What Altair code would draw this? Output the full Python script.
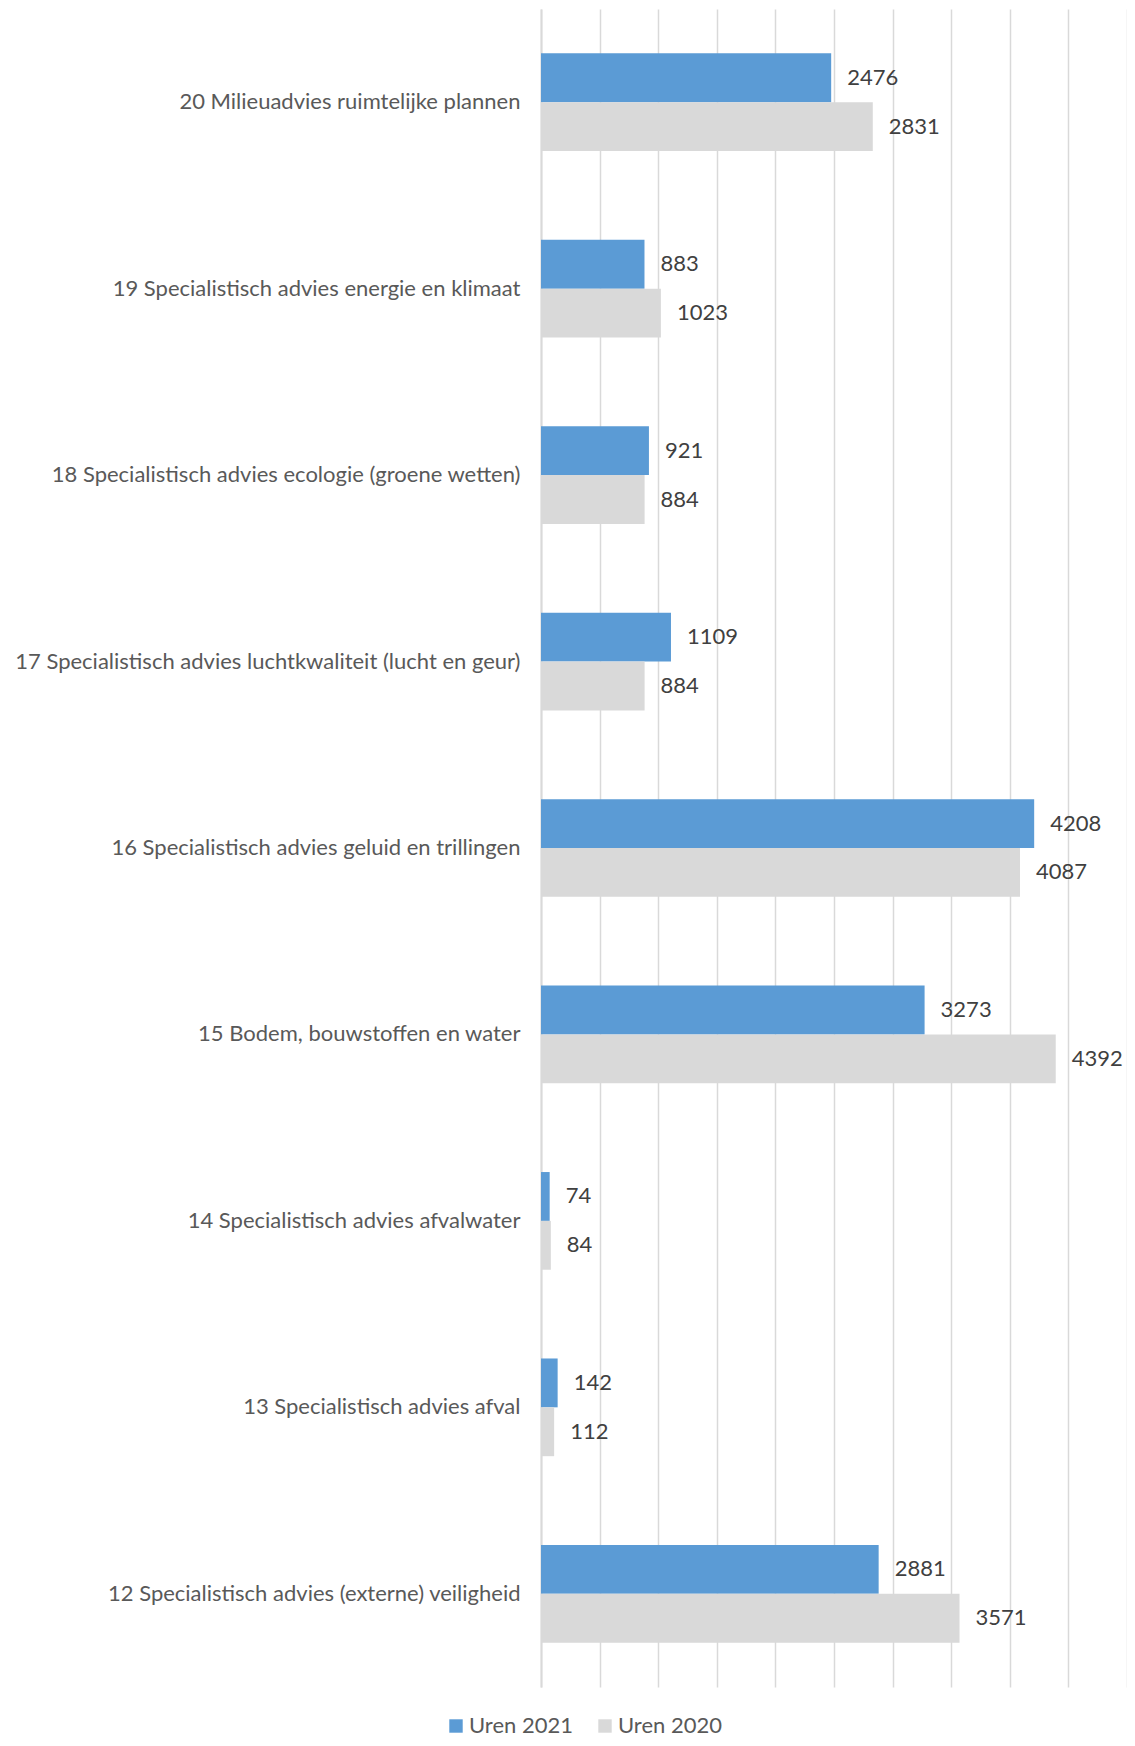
import altair as alt
import pandas as pd

categories = [
    "20 Milieuadvies ruimtelijke plannen",
    "19 Specialistisch advies energie en klimaat",
    "18 Specialistisch advies ecologie (groene wetten)",
    "17 Specialistisch advies luchtkwaliteit (lucht en geur)",
    "16 Specialistisch advies geluid en trillingen",
    "15 Bodem, bouwstoffen en water",
    "14 Specialistisch advies afvalwater",
    "13 Specialistisch advies afval",
    "12 Specialistisch advies (externe) veiligheid",
]
uren_2021 = [2476, 883, 921, 1109, 4208, 3273, 74, 142, 2881]
uren_2020 = [2831, 1023, 884, 884, 4087, 4392, 84, 112, 3571]
series = ["Uren 2021", "Uren 2020"]
colors = ["#5b9bd5", "#d9d9d9"]
x_ticks = list(range(0, 5001, 500))

rows = []
for c, a, b in zip(categories, uren_2021, uren_2020):
    rows.append({"cat": c, "serie": series[0], "val": a})
    rows.append({"cat": c, "serie": series[1], "val": b})
df = pd.DataFrame(rows)

FONT = "Lato"

y_enc = alt.Y(
    "cat:N",
    sort=categories,
    scale=alt.Scale(paddingInner=0.476, paddingOuter=0.238),
    axis=alt.Axis(
        title=None,
        ticks=False,
        domain=True,
        domainColor="#d9d9d9",
        domainWidth=2,
        labelFontSize=22,
        labelFont=FONT,
        labelColor="#595959",
        labelPadding=21,
        labelLimit=0,
    ),
)
yoff = alt.YOffset("serie:N", sort=series, scale=alt.Scale(paddingInner=0, paddingOuter=0))
x_enc = alt.X(
    "val:Q",
    scale=alt.Scale(domain=[0, 5000], nice=False),
    axis=alt.Axis(
        title=None,
        values=x_ticks,
        grid=True,
        gridColor="#d9d9d9",
        gridWidth=1.5,
        labels=False,
        ticks=False,
        domain=False,
    ),
)

bars = alt.Chart(df).mark_bar(cornerRadius=0).encode(
    y=y_enc,
    yOffset=yoff,
    x=x_enc,
    color=alt.Color(
        "serie:N",
        sort=series,
        scale=alt.Scale(domain=series, range=colors),
        legend=alt.Legend(
            title=None,
            orient="none",
            direction="horizontal",
            legendX=-96,
            legendY=1706,
            symbolType="square",
            symbolSize=180,
            symbolStrokeWidth=0,
            labelFontSize=22,
            labelFont=FONT,
            labelColor="#595959",
            labelOffset=2,
            columnPadding=21,
        ),
    ),
)

labels = alt.Chart(df).mark_text(
    align="left", baseline="middle", dx=16, fontSize=22, font=FONT, color="#404040"
).encode(
    y=alt.Y("cat:N", sort=categories),
    yOffset=alt.YOffset("serie:N", sort=series),
    x=alt.X("val:Q"),
    text=alt.Text("val:Q", format="d"),
)

chart = (
    alt.layer(bars, labels)
    .properties(
        width=586,
        height=1678,
        autosize=alt.AutoSizeParams(type="none"),
        padding={"left": 533, "top": 1, "right": 0, "bottom": 51},
    )
    .configure_view(stroke=None)
)

chart.save("out.html", embed_options={"renderer": "svg", "actions": False})
